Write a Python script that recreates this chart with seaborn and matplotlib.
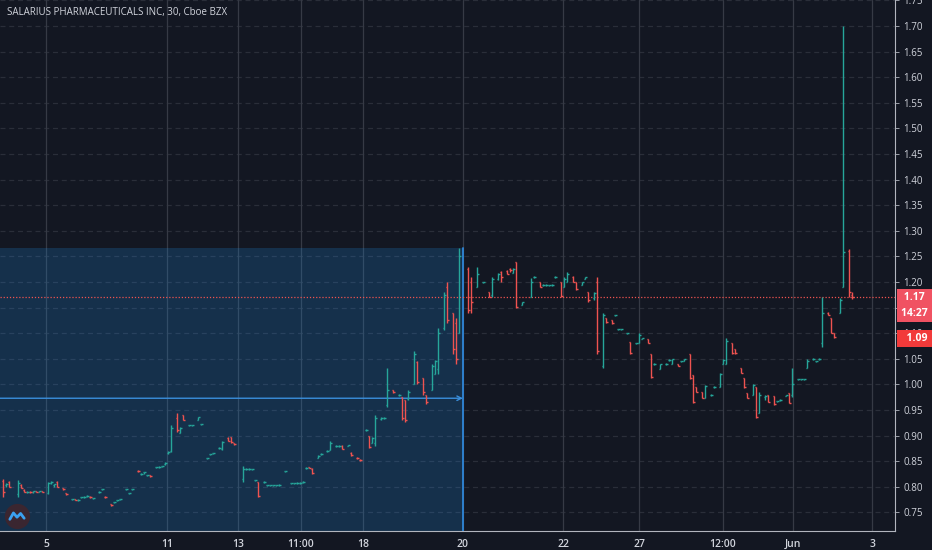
import numpy as np
import pandas as pd
import matplotlib
matplotlib.use("Agg")
import matplotlib.pyplot as plt
import seaborn as sns

# ---------------- data ----------------
title_text = "SALARIUS PHARMACEUTICALS INC, 30, Cboe BZX"

bar_slot = [1, 2, 3, 6, 7, 8, 9, 10, 11, 12, 13, 14, 16, 17, 18, 19, 21, 22, 24, 25, 26, 27, 28, 29, 30, 31,
            33, 34, 35, 37, 38, 39, 40, 42, 43, 44, 46, 47, 48, 49, 50, 52, 53, 54, 55, 56, 57, 59, 60, 61,
            63, 64, 66, 67, 69, 70, 71, 73, 74, 76, 77, 78, 81, 82, 83, 84, 85, 86, 88, 89, 90, 91, 92, 93,
            95, 97, 98, 99, 100, 101, 102, 103, 104, 106, 107, 109, 110, 112, 113, 114, 116, 117, 119, 120,
            122, 123, 124, 125, 127, 128, 129, 131, 133, 134, 135, 136, 138, 139, 141, 142, 144, 145, 146,
            148, 149, 151, 152, 153, 156, 157, 159, 161, 163, 164, 166, 167, 169, 170, 171, 172, 174, 177,
            178, 180, 181, 182, 183, 184, 185, 187, 188, 189, 191, 192, 194, 195, 196, 198, 199, 201, 202,
            204, 205, 206, 207, 209, 210, 212, 213, 214, 216, 217, 218, 220, 222, 223, 224, 226, 227, 228,
            230, 231, 232, 234, 235, 237, 238, 240, 241, 242, 244, 245, 247, 248, 249, 251, 252, 253, 255,
            256, 258, 259, 260, 262, 263, 264, 266, 267, 268, 269, 271, 272, 273, 274, 276, 277, 278, 280,
            281, 283, 284]

bar_open = [.812, .803, .810, .785, .803, .793, .790, .790, .789, .791, .790, .791, .788, .808, .803, .810,
            .797, .787, .776, .776, .775, .780, .780, .783, .781, .778, .790, .795, .781, .766, .770, .774,
            .776, .795, .787, .795, .831, .826, .828, .823, .823, .838, .838, .840, .845, .866, .870, .935,
            .905, .940, .920, .920, .930, .922, .856, .864, .866, .876, .873, .896, .897, .885, .815, .835,
            .835, .834, .813, .810, .810, .803, .803, .803, .803, .804, .830, .807, .807, .808, .808, .810,
            .836, .838, .835, .857, .864, .869, .872, .880, .880, .880, .880, .867, .857, .853, .911, .900,
            .885, .885, .932, .934, .960, .990, .980, .975, .970, .972, 1.000, 1.044, 1.013, .980, .990,
            1.020, 1.030, 1.110, 1.190, 1.140, 1.120, 1.100, 1.225, 1.200, 1.190, 1.200, 1.180, 1.175,
            1.205, 1.220, 1.222, 1.225, 1.217, 1.240, 1.155, 1.170, 1.210, 1.200, 1.195, 1.195, 1.194,
            1.195, 1.210, 1.200, 1.190, 1.200, 1.210, 1.200, 1.195, 1.205, 1.180, 1.168, 1.200, 1.035,
            1.130, 1.125, 1.135, 1.108, 1.108, 1.100, 1.083, 1.080, 1.080, 1.088, 1.088, 1.060, 1.040,
            1.030, 1.040, 1.048, 1.040, 1.040, 1.045, 1.045, 1.060, 1.018, .995, .985, .973, .980, .995,
            .995, 1.040, 1.040, 1.080, 1.070, 1.032, 1.013, .983, .980, .995, .944, .975, .980, .978, .967,
            .970, .978, .983, .980, 1.010, 1.010, 1.010, 1.032, 1.050, 1.045, 1.050, 1.080, 1.140, 1.130,
            1.100, 1.140, 1.190, 1.260, 1.175]

bar_high = [.815, .808, .812, .813, .805, .795, .791, .791, .792, .792, .792, .792, .810, .812, .806, .812,
            .798, .788, .777, .777, .776, .781, .782, .784, .782, .779, .791, .796, .782, .767, .771, .775,
            .777, .796, .788, .796, .832, .827, .829, .824, .824, .839, .840, .841, .848, .869, .920, .944,
            .917, .941, .921, .921, .937, .923, .857, .865, .867, .877, .890, .897, .898, .886, .840, .836,
            .836, .835, .814, .810, .811, .804, .804, .804, .804, .805, .831, .808, .808, .809, .809, .811,
            .838, .839, .836, .862, .866, .871, .890, .881, .881, .881, .882, .868, .858, .854, .912, .900,
            .897, .940, .936, .936, 1.032, .990, .981, .976, .970, .990, 1.065, 1.045, 1.013, .980, 1.040,
            1.047, 1.110, 1.180, 1.200, 1.140, 1.130, 1.267, 1.230, 1.210, 1.230, 1.201, 1.181, 1.210,
            1.218, 1.222, 1.223, 1.227, 1.227, 1.240, 1.160, 1.207, 1.211, 1.201, 1.196, 1.196, 1.195,
            1.196, 1.211, 1.200, 1.210, 1.220, 1.212, 1.200, 1.200, 1.210, 1.180, 1.180, 1.210, 1.140,
            1.130, 1.125, 1.136, 1.109, 1.109, 1.101, 1.083, 1.081, 1.100, 1.091, 1.088, 1.060, 1.041,
            1.040, 1.041, 1.049, 1.050, 1.040, 1.046, 1.050, 1.060, 1.018, .995, .985, .998, .981, .996,
            1.022, 1.050, 1.090, 1.080, 1.070, 1.032, 1.013, .983, 1.000, .995, .985, .980, .980, .978,
            .968, .971, .980, .983, 1.032, 1.011, 1.011, 1.011, 1.050, 1.051, 1.046, 1.051, 1.170, 1.142,
            1.130, 1.100, 1.168, 1.700, 1.265, 1.180]

bar_low = [.780, .800, .800, .780, .797, .789, .788, .788, .788, .789, .789, .789, .785, .805, .800, .800,
           .794, .784, .774, .774, .773, .778, .779, .781, .779, .776, .788, .793, .779, .763, .768, .772,
           .774, .793, .785, .793, .828, .824, .826, .821, .820, .836, .836, .838, .843, .864, .868, .907,
           .905, .930, .918, .918, .930, .920, .854, .862, .864, .874, .872, .889, .886, .882, .810, .833,
           .833, .832, .811, .780, .808, .801, .801, .801, .801, .802, .828, .805, .805, .806, .806, .808,
           .835, .836, .826, .856, .863, .868, .872, .878, .878, .873, .879, .861, .855, .851, .909, .876,
           .885, .880, .930, .932, .955, .983, .978, .930, .927, .970, 1.000, 1.000, .980, .962, .990,
           1.020, 1.020, 1.106, 1.120, 1.060, 1.040, 1.100, 1.140, 1.140, 1.190, 1.198, 1.170, 1.170,
           1.204, 1.200, 1.215, 1.220, 1.217, 1.150, 1.155, 1.170, 1.208, 1.190, 1.193, 1.193, 1.192,
           1.193, 1.208, 1.170, 1.190, 1.200, 1.200, 1.185, 1.195, 1.205, 1.160, 1.165, 1.060, 1.032,
           1.120, 1.118, 1.133, 1.106, 1.106, 1.098, 1.060, 1.078, 1.080, 1.088, 1.080, 1.013, 1.038,
           1.030, 1.038, 1.046, 1.040, 1.035, 1.043, 1.045, 1.010, .963, .985, .973, .973, .978, .993,
           .995, 1.040, 1.040, 1.060, 1.060, 1.022, .993, .973, .980, .935, .944, .970, .965, .960, .965,
           .968, .978, .963, .975, 1.008, 1.008, 1.008, 1.032, 1.048, 1.043, 1.048, 1.073, 1.135, 1.100,
           1.090, 1.140, 1.190, 1.170, 1.167]

bar_close = [.790, .806, .800, .808, .797, .790, .790, .789, .791, .790, .791, .790, .808, .810, .805, .800,
             .795, .785, .776, .775, .775, .780, .781, .783, .780, .778, .790, .795, .780, .765, .770, .775,
             .776, .795, .787, .795, .830, .826, .828, .823, .821, .838, .839, .840, .847, .868, .915, .910,
             .915, .931, .920, .920, .936, .922, .856, .864, .866, .876, .888, .890, .887, .884, .835, .835,
             .835, .834, .813, .783, .810, .803, .803, .803, .803, .804, .830, .807, .807, .808, .808, .810,
             .837, .837, .827, .860, .865, .870, .885, .880, .880, .874, .881, .862, .856, .852, .911, .878,
             .895, .935, .935, .935, .990, .985, .980, .935, .930, .985, 1.060, 1.005, .985, .965, 1.035,
             1.045, 1.100, 1.175, 1.125, 1.070, 1.050, 1.250, 1.145, 1.160, 1.215, 1.200, 1.171, 1.205,
             1.215, 1.210, 1.216, 1.223, 1.225, 1.152, 1.160, 1.200, 1.210, 1.191, 1.195, 1.195, 1.194,
             1.195, 1.210, 1.172, 1.205, 1.215, 1.200, 1.186, 1.200, 1.210, 1.165, 1.178, 1.065, 1.135,
             1.121, 1.120, 1.135, 1.108, 1.108, 1.100, 1.062, 1.080, 1.097, 1.090, 1.081, 1.015, 1.040,
             1.040, 1.040, 1.048, 1.050, 1.036, 1.045, 1.050, 1.012, .965, .986, .974, .996, .980, .995,
             1.020, 1.048, 1.085, 1.062, 1.061, 1.023, .995, .974, .998, .937, .980, .978, .966, .961, .967,
             .970, .980, .964, 1.000, 1.010, 1.010, 1.010, 1.045, 1.050, 1.045, 1.050, 1.140, 1.136, 1.100,
             1.092, 1.165, 1.258, 1.180, 1.170]

tick_labels = ["5", "11", "13", "11:00", "18", "20", "22", "27", "12:00", "Jun", "3"]
tick_slots = [15.3, 55.7, 79.3, 100.3, 121.0, 154.3, 187.7, 213.0, 241.0, 264.3, 290.7]

price_ticks = [0.75, 0.80, 0.85, 0.90, 0.95, 1.00, 1.05, 1.10, 1.15, 1.20, 1.25, 1.30,
               1.35, 1.40, 1.45, 1.50, 1.55, 1.60, 1.65, 1.70, 1.75]

last_price = 1.17
countdown_text = "14:27"
marker_price = 1.09
range_end_slot = 154.3
range_top = 1.267
range_line_price = 0.973

# ---------------- style ----------------
BG = "#131722"
UP = "#26a69a"
DOWN = "#ef5350"
TXT = "#d1d4dc"

sns.set_style("dark", {"axes.facecolor": BG, "figure.facecolor": BG})
plt.rcParams["font.family"] = ["Open Sans", "DejaVu Sans"]

df = pd.DataFrame({"slot": bar_slot, "open": bar_open, "high": bar_high,
                   "low": bar_low, "close": bar_close})
df["color"] = np.where(df["close"] >= df["open"], UP, DOWN)

fig = plt.figure(figsize=(9.32, 5.50), dpi=100)
ax = fig.add_axes([0.0, 19 / 550, 895 / 932, 531 / 550])
ax.set_facecolor(BG)

ymin, ymax = 0.7137, 1.7508
xmax = 895 / 3
ax.set_xlim(0, xmax)
ax.set_ylim(ymin, ymax)

# grid
for p in price_ticks:
    ax.axhline(p, color="#2a2e39", lw=0.9, ls=(0, (4, 3)), zorder=1)
for s in tick_slots:
    ax.axvline(s, color="#363a45", lw=0.9, zorder=1)

# range (shaded area)
ax.fill_between([0, range_end_slot], ymin, range_top, color="#2196f3", alpha=0.20,
                lw=0, zorder=2)
ax.plot([range_end_slot, range_end_slot], [ymin, range_top], color="#2f86d8", lw=1.3, zorder=3)
ax.annotate("", xy=(range_end_slot, range_line_price), xytext=(0, range_line_price),
            arrowprops=dict(arrowstyle="->", color="#3a8fdc", lw=1.0,
                            shrinkA=0, shrinkB=0, mutation_scale=8), zorder=3)

# OHLC bars
hw = 0.5
ax.vlines(df["slot"], df["low"], df["high"], colors=df["color"], lw=1.0, zorder=4)
ax.hlines(df["open"], df["slot"] - hw, df["slot"], colors=df["color"], lw=1.0, zorder=4)
ax.hlines(df["close"], df["slot"], df["slot"] + hw, colors=df["color"], lw=1.0, zorder=4)

# last price line
sns.lineplot(x=[0, xmax], y=[last_price, last_price], ax=ax, color=DOWN, lw=0.9,
             linestyle=(0, (1, 1.5)), zorder=3)

# axes / ticks
for side in ["top", "left"]:
    ax.spines[side].set_visible(False)
ax.spines["right"].set_color("#b2b5be")
ax.spines["bottom"].set_color("#b2b5be")
ax.spines["right"].set_linewidth(0.8)
ax.spines["bottom"].set_linewidth(0.8)

ax.yaxis.tick_right()
ax.set_yticks(price_ticks)
ax.set_yticklabels([f"{p:.2f}" for p in price_ticks])
ax.tick_params(axis="y", colors="#b2b5be", labelcolor=TXT, labelsize=7, length=3,
               width=0.6, pad=3, right=True, left=False)
ax.set_xticks(tick_slots)
ax.set_xticklabels(tick_labels)
ax.tick_params(axis="x", colors="#b2b5be", labelcolor=TXT, labelsize=7.5, length=3,
               width=0.6, pad=3)
for lab in ax.get_xticklabels():
    lab.set_fontweight("semibold")
ax.set_xlabel("")
ax.set_ylabel("")

# price labels on right scale
def price_tag(y, text, color, dy_pts=0):
    ax.annotate(text, xy=(1.0, y), xycoords=("axes fraction", "data"),
                xytext=(4, dy_pts), textcoords="offset points", ha="left", va="center",
                fontsize=7.5, color="white", fontweight="bold", annotation_clip=False,
                bbox=dict(boxstyle="square,pad=0.3", fc=color, ec="none"), zorder=10)

price_tag(last_price, " 1.17  ", "#f05262")
price_tag(last_price, "14:27 ", "#f05262", dy_pts=-11.5)
price_tag(marker_price, "  1.09  ", "#f23a3a")

# title
fig.text(7 / 932, 1 - 12 / 550, title_text, color="#d1d4dc", fontsize=7,
         ha="left", va="center")

# small logo badge bottom-left
ax.scatter([0.019], [0.028], s=330, color="#3a2630", transform=ax.transAxes, zorder=6,
           linewidths=0)
ax.plot([0.011, 0.015, 0.019, 0.023, 0.027], [0.022, 0.034, 0.026, 0.033, 0.024],
        transform=ax.transAxes, color="#3aa0f0", lw=2.0, zorder=7, solid_capstyle="round")

fig.savefig("out.png", dpi=100, facecolor=BG)
